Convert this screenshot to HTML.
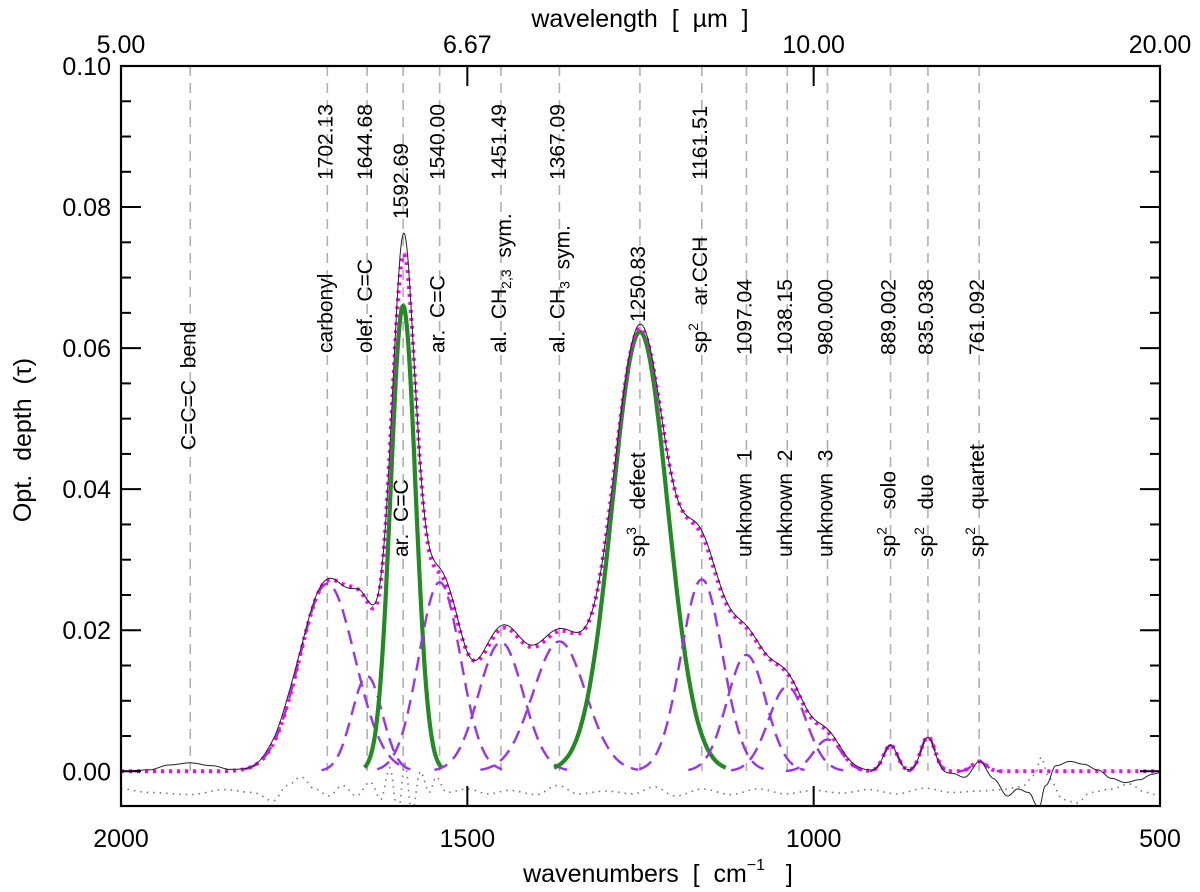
<!DOCTYPE html>
<html><head><meta charset="utf-8"><style>
html,body{margin:0;padding:0;background:#fff}
svg{display:block;font-family:"Liberation Sans",sans-serif}
</style></head><body>
<svg id="chart" width="1200" height="892" viewBox="0 0 1200 892" xmlns="http://www.w3.org/2000/svg">
<defs><clipPath id="plotclip"><rect x="121" y="66" width="1039" height="740"/></clipPath></defs>
<rect x="0" y="0" width="1200" height="892" fill="#fff"/>
<g id="marklines"></g>
<g id="labels"></g>
<g id="series" clip-path="url(#plotclip)"></g>
<g id="axes"></g>
</svg>
<script>
// ---- data ----
const bandCenters = [1702.13,1644.68,1592.69,1540.00,1451.49,1367.09,1250.83,1161.51,1097.04,1038.15,980.000,889.002,835.038,761.092];
const bandAmps    = [0.0266,0.0135,0.0660,0.0268,0.0183,0.0184,0.0623,0.0272,0.0165,0.0120,0.0045,0.0037,0.0049,0.0014];
const bandSigmas  = [40,22,18,30,32,38,40,30,28,27,20,10,10,10];
const bandGreen   = [false,false,true,false,false,false,true,false,false,false,false,false,false,false];
const bandNumbers = ["1702.13","1644.68","1592.69","1540.00","1451.49","1367.09","1250.83","1161.51","1097.04","1038.15","980.000","889.002","835.038","761.092"];
const bandNames   = ["carbonyl","olef.|C=C","ar.|C=C","ar.|C=C","al. CH_{2,3} sym.","al. CH_{3} sym.","sp^{3} defect","sp^{2} ar.CCH","unknown 1","unknown 2","unknown 3","sp^{2} solo","sp^{2} duo","sp^{2} quartet"];
const bandLow     = [false,false,true,false,false,false,true,false,true,true,true,true,true,true];
const extraLineW  = 1900;
const extraLineName = "C=C=C bend";
// observed minus fit (knots)
const obsDeltaW = [2000,1960,1930,1900,1870,1840,1810,1780,1760,1730,1700,1670,1650,1630,1610,1592,1575,1550,1520,1495,1470,1440,1410,1380,1340,1290,1250,1200,1160,1100,1060,1000,950,900,850,800,780,760,740,720,705,690,675,665,650,630,610,590,570,550,530,510,500];
const obsDeltaV = [0,0.0002,0.0009,0.0012,0.0008,0.0002,0,0.0006,0.001,0.0004,0.0002,-0.0003,0.0002,0.0006,0.0003,0.003,0.0002,0.0008,0.0006,0,0.0005,0.0004,0.0003,0.0004,0.0002,0,0.0006,0,0.0006,0.0003,0.0002,0.0003,0.0003,0,0,-0.0003,-0.001,0,-0.0012,-0.0035,-0.0025,-0.003,-0.0052,-0.002,0.0008,0.0014,0.001,0.0002,-0.001,-0.0016,-0.0012,-0.0004,-0.0002];
// residual (dotted)
const residW = [2000,1960,1900,1850,1810,1780,1760,1740,1720,1700,1680,1660,1640,1625,1612,1600,1590,1580,1568,1555,1545,1530,1500,1470,1440,1400,1370,1340,1300,1260,1230,1200,1160,1120,1080,1040,1000,960,920,880,840,800,760,730,700,680,672,660,640,620,600,570,545,520,500];
const residV = [-0.0025,-0.003,-0.0033,-0.0026,-0.003,-0.0042,-0.002,-0.0008,-0.0025,-0.0035,-0.002,-0.0035,-0.0015,-0.004,0.0005,-0.006,0.001,-0.006,0,-0.003,-0.0008,-0.003,-0.0025,-0.0032,-0.0027,-0.0033,-0.002,-0.0032,-0.0028,-0.0032,-0.0022,-0.0035,-0.0025,-0.0033,-0.0025,-0.0032,-0.0027,-0.0031,-0.0026,-0.0032,-0.0024,-0.003,-0.0028,-0.0026,-0.0022,-0.0005,0.002,-0.001,-0.004,-0.0045,-0.003,-0.0025,-0.0018,-0.003,-0.0035];
const yTicks = [0.00,0.02,0.04,0.06,0.08,0.10];
const yTickLabels = ["0.00","0.02","0.04","0.06","0.08","0.10"];
const xTicks = [2000,1500,1000,500];
const xTickLabels = ["2000","1500","1000","500"];
const topTicksUm = [5,6.6667,10,20];
const topTickLabels = ["5.00","6.67","10.00","20.00"];

// ---- axes functions ----
const L=121,R=1160,T=66,B=806;
function X(w){return L+(2000-w)*(R-L)/1500;}
function Y(v){return 771.3-v*7053;}
const NS="http://www.w3.org/2000/svg";
function mk(tag,attrs,parent){const e=document.createElementNS(NS,tag);for(const k in attrs)e.setAttribute(k,attrs[k]);parent.appendChild(e);return e;}
function gauss(i,w){const d=w-bandCenters[i];return bandAmps[i]*Math.exp(-d*d/(2*bandSigmas[i]*bandSigmas[i]));}
function fitAt(w){let s=0;for(let i=0;i<bandCenters.length;i++)s+=gauss(i,w);return s;}
function interp(ws,vs,w){for(let i=0;i<ws.length-1;i++){if(w<=ws[i]&&w>=ws[i+1]){const t=(ws[i]-w)/(ws[i]-ws[i+1]);const u=(1-Math.cos(Math.PI*t))/2;return vs[i]+(vs[i+1]-vs[i])*u;}}return 0;}

const lines=document.getElementById('marklines'),labels=document.getElementById('labels'),series=document.getElementById('series'),axes=document.getElementById('axes');

// marker lines
const allLineW=[extraLineW].concat(bandCenters);
allLineW.forEach(w=>{const l=mk('line',{x1:X(w),x2:X(w),y1:T,y2:771,stroke:'#b0b0b0','stroke-width':1.6,'stroke-dasharray':'10 7'},lines);

});

// labels
function vtext(x,ybottom,str,name){
  const t=mk('text',{transform:`translate(${x},${ybottom}) rotate(-90)`,'font-size':21,fill:'#000'},labels);
  
  
  const re=/(_\{[^}]*\}|\^\{[^}]*\}|\|)/;
  str.split(re).forEach(p=>{if(!p)return;
    if(p==='|'){const s=mk('tspan',{},t);s.textContent='\u00a0\u00a0';return;}
    if(p[0]==='_'){const s=mk('tspan',{'font-size':14,dy:5},t);s.textContent=p.slice(2,-1);const r=mk('tspan',{dy:-5},t);r.textContent='';return;}
    if(p[0]==='^'){const s=mk('tspan',{'font-size':14,dy:-9},t);s.textContent=p.slice(2,-1);const r=mk('tspan',{dy:9},t);r.textContent='\u00a0';return;}
    const s=mk('tspan',{},t);s.textContent=p.replace(/ /g,'\u00a0\u00a0');});
}
vtext(X(extraLineW)+5,450,extraLineName,'label-c=c=c-bend');
for(let i=0;i<bandCenters.length;i++){
  const x=X(bandCenters[i])+5;
  let nb=180,lb=353;
  if(i===2){nb=219;lb=557;}
  else if(i===6){nb=322;lb=557;}
  else if(bandLow[i]){nb=355;lb=557;}
  vtext(x,nb,bandNumbers[i],'band-number-'+bandNumbers[i]);
  vtext(x,lb,bandNames[i],'band-name-'+i);
}

// components
for(let i=0;i<bandCenters.length;i++){
  const k=bandGreen[i]?3.1:3.0;let d='';
  for(let w=bandCenters[i]+k*bandSigmas[i];w>=bandCenters[i]-k*bandSigmas[i];w-=1){d+=(d?'L':'M')+X(w).toFixed(1)+','+Y(gauss(i,w)).toFixed(1);}
  const p=mk('path',{d:d,fill:'none',stroke:bandGreen[i]?'#228b22':'#9933ee','stroke-width':bandGreen[i]?4.2:2.4,'stroke-dasharray':bandGreen[i]?'none':'14 8'},series);
  
  
}
// fit
let df='',dob='',dr='';
for(let w=2000;w>=500;w-=1){const f=fitAt(w);df+=(df?'L':'M')+X(w).toFixed(1)+','+Y(f).toFixed(1);
 dob+=(dob?'L':'M')+X(w).toFixed(1)+','+Y(f+interp(obsDeltaW,obsDeltaV,w)).toFixed(1);}
for(let w=2000;w>=500;w-=2){dr+=(dr?'L':'M')+X(w).toFixed(1)+','+Y(interp(residW,residV,w)).toFixed(1);}
const pr=mk('path',{d:dr,fill:'none',stroke:'#777','stroke-width':1.6,'stroke-dasharray':'1.5 5'},series);


const pf=mk('path',{d:df,fill:'none',stroke:'#ff00ff','stroke-width':4,'stroke-dasharray':'3 5'},series);


const po=mk('path',{d:dob,fill:'none',stroke:'#222','stroke-width':1},series);



// axes frame
const fr=mk('rect',{x:L,y:T,width:R-L,height:B-T,fill:'none',stroke:'#000','stroke-width':2.2},axes);


// y ticks
for(let v=0;v<=0.1001;v+=0.005){const major=Math.abs(v/0.02-Math.round(v/0.02))<1e-6;const len=major?20:10;
 const a=mk('line',{x1:L,x2:L+len,y1:Y(v),y2:Y(v),stroke:'#000','stroke-width':2},axes);
 
 
 const b=mk('line',{x1:R,x2:R-len,y1:Y(v),y2:Y(v),stroke:'#000','stroke-width':2},axes);
 
 }
yTicks.forEach((v,i)=>{const t=mk('text',{x:111,y:Y(v)+9,'text-anchor':'end','font-size':25},axes);t.textContent=yTickLabels[i];
 
 });
xTicks.forEach((w,i)=>{const a=mk('line',{x1:X(w),x2:X(w),y1:B,y2:B-20,stroke:'#000','stroke-width':2},axes);
 
 
 const t=mk('text',{x:X(w),y:847,'text-anchor':'middle','font-size':25},axes);t.textContent=xTickLabels[i];
 
 });
topTicksUm.forEach((u,i)=>{const w=10000/u;const a=mk('line',{x1:X(w),x2:X(w),y1:T,y2:T+20,stroke:'#000','stroke-width':2},axes);
 
 
 const t=mk('text',{x:X(w),y:53,'text-anchor':'middle','font-size':25},axes);t.textContent=topTickLabels[i];
 
 });
// titles
const xt=mk('text',{x:658,y:882,'text-anchor':'middle','font-size':25},axes);


xt.innerHTML='wavenumbers\u00a0\u00a0[\u00a0\u00a0cm<tspan font-size="16" dy="-12">−1</tspan><tspan dy="12">\u00a0\u00a0\u00a0]</tspan>';
const tt=mk('text',{x:640,y:27,'text-anchor':'middle','font-size':25},axes);


tt.textContent='wavelength\u00a0\u00a0[\u00a0\u00a0\u00b5m\u00a0\u00a0]';
const yt=mk('text',{transform:'translate(31,440) rotate(-90)','text-anchor':'middle','font-size':25},axes);


yt.textContent='Opt.\u00a0\u00a0depth\u00a0\u00a0(\u03c4)';
</script>
</body></html>
